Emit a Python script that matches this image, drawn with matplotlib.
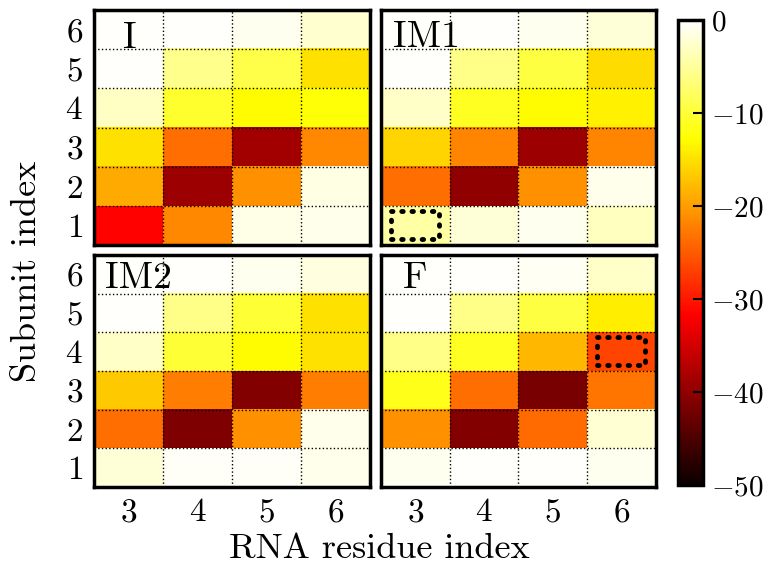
import matplotlib
matplotlib.use("Agg")
import matplotlib.pyplot as plt
from matplotlib.patches import Rectangle
import numpy as np

plt.rcParams['font.family'] = 'cmr10'
plt.rcParams['mathtext.fontset'] = 'cm'
plt.rcParams['axes.formatter.use_mathtext'] = True

residues = [3, 4, 5, 6]
subunits = [1, 2, 3, 4, 5, 6]
panel_names = ['I', 'IM1', 'IM2', 'F']

# rows: subunit 1..6, columns: residue 3..6
E_I = [[-31.5, -21.5, -1.2, -1.0],
       [-19.0, -39.0, -21.0, -1.5],
       [-15.0, -23.5, -38.5, -21.5],
       [-3.0, -10.5, -13.0, -12.5],
       [-0.3, -5.7, -9.0, -15.0],
       [-0.2, -0.3, -0.8, -2.5]]
E_IM1 = [[-4.5, -2.0, -0.8, -3.3],
         [-23.5, -40.0, -21.0, -1.0],
         [-16.0, -21.8, -39.0, -21.8],
         [-2.8, -11.0, -13.0, -13.7],
         [-0.2, -6.0, -9.5, -15.3],
         [-0.2, -0.3, -0.8, -2.0]]
E_IM2 = [[-2.0, -0.5, -0.5, -1.0],
         [-23.5, -41.3, -21.0, -1.0],
         [-16.7, -22.3, -41.0, -22.3],
         [-2.8, -10.0, -13.0, -15.0],
         [-0.2, -6.0, -10.0, -15.0],
         [-0.2, -0.2, -0.8, -1.6]]
E_F = [[-0.8, -0.3, -0.3, -0.8],
       [-21.0, -41.0, -23.8, -2.2],
       [-11.5, -23.5, -41.7, -23.0],
       [-6.0, -11.0, -18.0, -26.6],
       [-0.2, -6.0, -9.5, -14.0],
       [-0.2, -0.2, -0.6, -2.8]]
panel_data = [E_I, E_IM1, E_IM2, E_F]

# highlighted cells (residue, subunit) per panel
highlight = {'IM1': (3, 1), 'F': (6, 4)}

label_x = {'I': 0.105, 'IM1': 0.043, 'IM2': 0.04, 'F': 0.08}
label_y = {'I': 0.84, 'IM1': 0.843, 'IM2': 0.858, 'F': 0.858}

fig = plt.figure(figsize=(7.67, 5.66), dpi=100)
positions = [[0.1226, 0.567, 0.3598, 0.4153],
             [0.4967, 0.567, 0.3583, 0.4153],
             [0.1226, 0.1396, 0.3598, 0.4099],
             [0.4967, 0.1396, 0.3583, 0.4099]]

ext = [residues[0] - 0.5, residues[-1] + 0.5, subunits[0] - 0.5, subunits[-1] + 0.5]
for k, name in enumerate(panel_names):
    ax = fig.add_axes(positions[k])
    im = ax.imshow(np.array(panel_data[k]), cmap='hot', vmin=-50, vmax=0,
                   origin='lower', extent=ext, aspect='auto', interpolation='nearest')
    ax.set_xticks(residues)
    ax.set_yticks(subunits)
    ax.set_xticks(np.arange(ext[0] + 1, ext[1], 1), minor=True)
    ax.set_yticks(np.arange(ext[2] + 1, ext[3], 1), minor=True)
    ax.grid(which='minor', color='black', linestyle=':', linewidth=1.0)
    ax.tick_params(which='both', length=0, labelsize=24, pad=8)
    if k < 2:
        ax.set_xticklabels([])
    if k % 2 == 1:
        ax.set_yticklabels([])
    for s in ax.spines.values():
        s.set_linewidth(2.5)
    ax.text(label_x[name], label_y[name], name, transform=ax.transAxes,
            fontsize=27, ha='left', va='baseline')
    if name in highlight:
        r, s = highlight[name]
        ax.add_patch(Rectangle((r - 0.35, s - 0.35), 0.7, 0.72, fill=False,
                               edgecolor='black', linestyle=(0, (0.3, 1.8)),
                               linewidth=3.5, capstyle='round'))

cax = fig.add_axes([0.884, 0.143, 0.0326, 0.8217])
cb = fig.colorbar(im, cax=cax, ticks=[0, -10, -20, -30, -40, -50])
cb.outline.set_linewidth(2.5)
cax.tick_params(direction='in', length=7, width=1.5, labelsize=21, pad=6)

fig.text(0.035, 0.52, 'Subunit index', rotation=90, fontsize=26, ha='center', va='center')
fig.text(0.495, 0.03, 'RNA residue index', fontsize=26, ha='center', va='center')

fig.savefig('out.png', dpi=100)
